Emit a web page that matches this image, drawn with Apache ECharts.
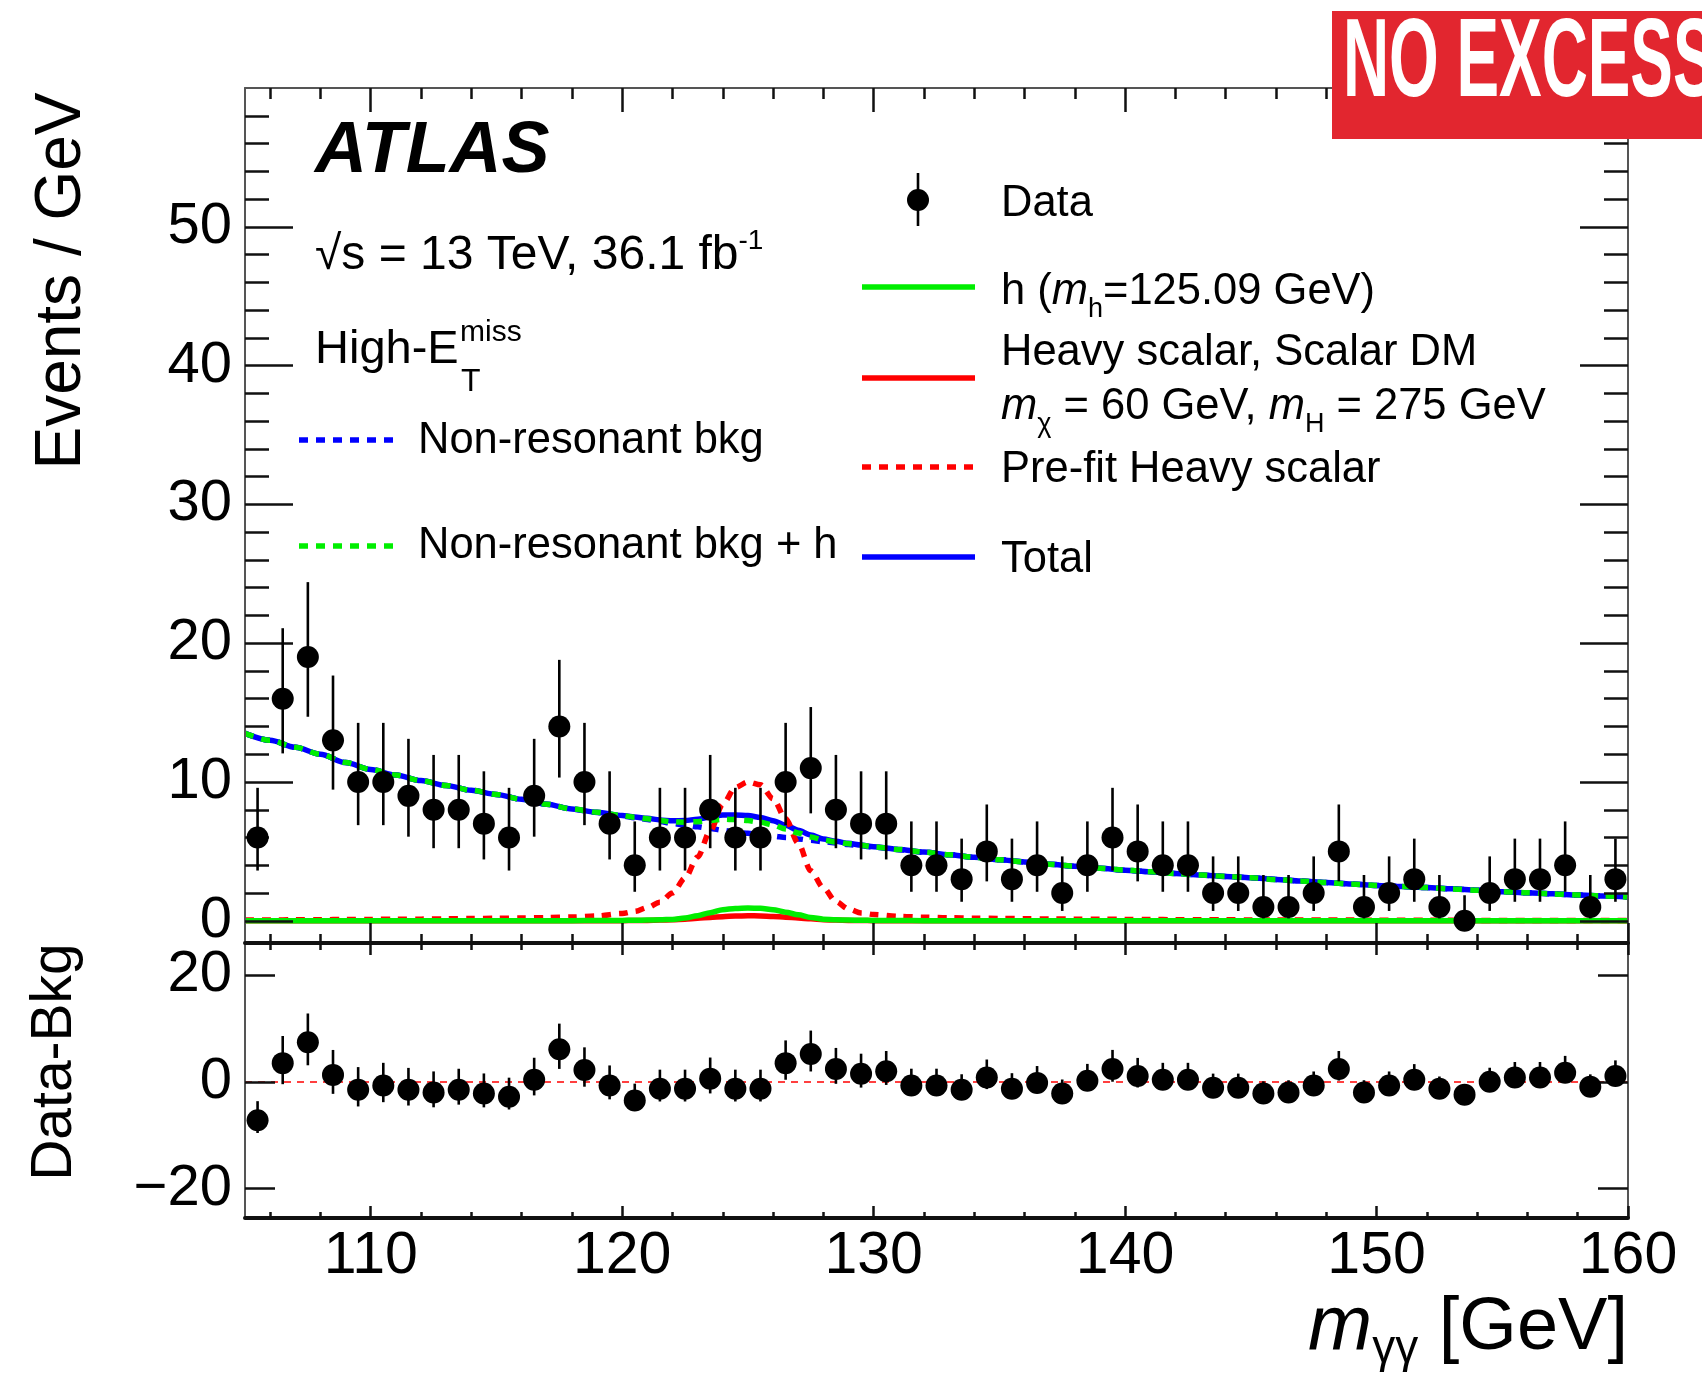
<!DOCTYPE html>
<html><head><meta charset="utf-8">
<script src="https://cdn.jsdelivr.net/npm/echarts@6/dist/echarts.min.js"></script>
<style>html,body{margin:0;padding:0;background:#fff}#c{width:1702px;height:1384px}</style>
</head><body><div id="c"></div>
<script>
// ---------- data ----------
const binCenters = [105.5,106.5,107.5,108.5,109.5,110.5,111.5,112.5,113.5,114.5,115.5,116.5,117.5,118.5,119.5,120.5,121.5,122.5,123.5,124.5,125.5,126.5,127.5,128.5,129.5,130.5,131.5,132.5,133.5,134.5,135.5,136.5,137.5,138.5,139.5,140.5,141.5,142.5,143.5,144.5,145.5,146.5,147.5,148.5,149.5,150.5,151.5,152.5,153.5,154.5,155.5,156.5,157.5,158.5,159.5];
const dataEvents = [6,16,19,13,10,10,9,8,8,7,6,9,14,10,7,4,6,6,8,6,6,10,11,8,7,7,4,4,3,5,3,4,2,4,6,5,4,4,2,2,1,1,2,5,1,2,3,1,0,2,3,3,4,1,3];
const dataErrLo = [2.38,3.94,4.3,3.55,3.11,3.11,2.94,2.77,2.77,2.58,2.38,2.94,3.68,3.11,2.58,1.91,2.38,2.38,2.77,2.38,2.38,3.11,3.26,2.77,2.58,2.58,1.91,1.91,1.63,2.16,1.63,1.91,1.29,1.91,2.38,2.16,1.91,1.91,1.29,1.29,0.83,0.83,1.29,2.16,0.83,1.29,1.63,0.83,0,1.29,1.63,1.63,1.91,0.83,1.63];
const dataErrHi = [3.58,5.08,5.4,4.67,4.26,4.26,4.11,3.95,3.95,3.77,3.58,4.11,4.8,4.26,3.77,3.16,3.58,3.58,3.95,3.58,3.58,4.26,4.4,3.95,3.77,3.77,3.16,3.16,2.92,3.38,2.92,3.16,2.64,3.16,3.58,3.38,3.16,3.16,2.64,2.64,2.3,2.3,2.64,3.38,2.3,2.64,2.92,2.3,1.84,2.64,2.92,2.92,3.16,2.3,2.92];
const residuals = [-7.2,3.5,7.4,1.3,-1.5,-0.7,-1.5,-2,-1.5,-2.2,-2.8,0.4,6.1,2.2,-0.7,-3.5,-1.3,-1.3,0.6,-1.3,-1.3,3.5,5.2,2.4,1.5,2,-0.7,-0.7,-1.5,0.8,-1.3,-0.2,-2.2,0.2,2.4,1.1,0.4,0.4,-1.1,-1.1,-2.2,-2,-0.7,2.4,-2,-0.7,0.4,-1.3,-2.4,0,0.8,0.8,1.7,-0.9,1.1];

const curveX = [105,106,107,108,109,110,111,112,113,114,115,116,117,118,119,120,120.5,121,121.5,122,122.5,123,123.5,124,124.5,125,125.5,126,126.5,127,127.5,128,128.5,129,129.5,130,131,132,133,134,135,136,137,138,139,140,141,142,143,144,145,146,147,148,149,150,151,152,153,154,155,156,157,158,159,160];
const bkgY = [13.5,13.0,12.5,12.0,11.4,10.9,10.5,10.1,9.75,9.4,9.1,8.75,8.4,8.05,7.8,7.55,7.42,7.3,7.15,7.02,6.9,6.77,6.65,6.52,6.4,6.3,6.2,6.1,6.0,5.9,5.8,5.7,5.6,5.5,5.4,5.3,5.12,4.94,4.76,4.58,4.4,4.24,4.08,3.93,3.79,3.65,3.53,3.41,3.3,3.2,3.1,2.98,2.86,2.75,2.65,2.55,2.47,2.39,2.3,2.2,2.1,2.02,1.94,1.86,1.79,1.72];
const bkgPlusHY = [13.5,13.0,12.5,12.0,11.4,10.9,10.5,10.1,9.75,9.4,9.1,8.75,8.4,8.06,7.82,7.58,7.46,7.35,7.22,7.12,7.1,7.14,7.23,7.32,7.29,7.22,7.1,6.9,6.62,6.33,6.04,5.82,5.68,5.55,5.44,5.33,5.14,4.95,4.76,4.58,4.4,4.24,4.08,3.93,3.79,3.65,3.53,3.41,3.3,3.2,3.1,2.98,2.86,2.75,2.65,2.55,2.47,2.39,2.3,2.2,2.1,2.02,1.94,1.86,1.79,1.72];
const totalY = [13.5,13.0,12.5,12.0,11.4,10.9,10.5,10.1,9.75,9.4,9.1,8.75,8.4,8.06,7.82,7.59,7.48,7.38,7.27,7.2,7.22,7.32,7.47,7.62,7.63,7.58,7.45,7.21,6.88,6.53,6.18,5.9,5.73,5.58,5.46,5.34,5.14,4.95,4.76,4.58,4.4,4.24,4.08,3.93,3.79,3.65,3.53,3.41,3.3,3.2,3.1,2.98,2.86,2.75,2.65,2.55,2.47,2.39,2.3,2.2,2.1,2.02,1.94,1.86,1.79,1.72];
const higgsY = [0,0,0,0,0,0,0,0,0,0,0,0,0,0.01,0.02,0.03,0.04,0.05,0.07,0.1,0.2,0.37,0.58,0.8,0.89,0.92,0.9,0.8,0.62,0.43,0.24,0.12,0.08,0.05,0.04,0.03,0.02,0.01,0,0,0,0,0,0,0,0,0,0,0,0,0,0,0,0,0,0,0,0,0,0,0,0,0,0,0,0];
const heavyY = [0,0,0,0,0,0,0,0,0,0,0,0,0,0,0,0.01,0.02,0.03,0.05,0.08,0.12,0.18,0.24,0.3,0.34,0.36,0.35,0.31,0.26,0.2,0.14,0.08,0.05,0.03,0.02,0.01,0,0,0,0,0,0,0,0,0,0,0,0,0,0,0,0,0,0,0,0,0,0,0,0,0,0,0,0,0,0];
const prefitY = [0.05,0.06,0.07,0.08,0.09,0.1,0.11,0.12,0.14,0.16,0.18,0.2,0.23,0.27,0.35,0.53,0.68,0.95,1.33,2.0,3.08,4.6,6.47,8.4,9.6,10.0,9.8,8.8,7.35,5.6,3.6,2.37,1.38,0.85,0.57,0.45,0.32,0.26,0.22,0.19,0.17,0.15,0.13,0.12,0.11,0.1,0.09,0.08,0.07,0.07,0.06,0.06,0.05,0.05,0.05,0.04,0.04,0.04,0.04,0.03,0.03,0.03,0.03,0.03,0.03,0.03];

const xMajorTicks = [110,120,130,140,150,160];
const xMinorTicks = [106,108,112,114,116,118,122,124,126,128,132,134,136,138,142,144,146,148,152,154,156,158];
const yMainMajorTicks = [0,10,20,30,40,50];
const yMainMinorTicks = [2,4,6,8,12,14,16,18,22,24,26,28,32,34,36,38,42,44,46,48,52,54,56,58];
const yRatioTicks = [-20,0,20];

// ---------- styling ----------
const FONT = '"Liberation Sans", Arial, Helvetica, sans-serif';
const BLUE = '#0000ff', GREEN = '#00ee00', RED = '#ff0000';
const TICK = {color:'#111', width:2.5};
const THICK = {color:'#111', width:4};
const THIN = {color:'#555', width:2};
const LEG = 43.5;
const fmtNum = v => v < 0 ? '\u2212' + Math.abs(v) : String(v);

function xAx(grid, pos, ticks, len, line, labels) {
  return {
    type:'value', gridIndex:grid, position:pos, min:105, max:160, z:5,
    axisLine:{show:!!line, onZero:false, lineStyle: line || {}},
    axisTick:{show:true, inside:true, length:len, customValues:ticks, lineStyle:TICK},
    axisLabel: labels ? {show:true, customValues:ticks, margin:9, color:'#000', fontSize:59, fontFamily:FONT, formatter:fmtNum}
                      : {show:false, customValues:ticks},
    splitLine:{show:false}
  };
}
function yAx(grid, pos, ticks, len, min, max, line, labels) {
  return {
    type:'value', gridIndex:grid, position:pos, min:min, max:max, z:5,
    axisLine:{show:!!line, onZero:false, lineStyle: line || {}},
    axisTick:{show:true, inside:true, length:len, customValues:ticks, lineStyle:TICK},
    axisLabel: labels ? {show:true, customValues:ticks, margin:13, color:'#000', fontSize:58, fontFamily:FONT, formatter:fmtNum}
                      : {show:false, customValues:ticks},
    splitLine:{show:false}
  };
}

const MAIN_MIN = -1.6, MAIN_MAX = 60, R_MIN = -25.5, R_MAX = 26;

const pairs = (xs, ys) => xs.map((x, i) => [x, ys[i]]);
function errBars(xs, ys, lo, hi) { return xs.map((x, i) => [x, ys[i] - lo[i], ys[i] + hi[i]]); }
function renderErr(params, api) {
  const p1 = api.coord([api.value(0), api.value(1)]);
  const p2 = api.coord([api.value(0), api.value(2)]);
  return {type:'line', shape:{x1:p1[0], y1:p1[1], x2:p2[0], y2:p2[1]}, style:{stroke:'#000', lineWidth:2.6}};
}
function curve(name, ys, color, dash, z) {
  return {
    name, type:'line', xAxisIndex:0, yAxisIndex:0, data:pairs(curveX, ys),
    showSymbol:false, symbol:'none', smooth:0.3, smoothMonotone:'x', z:z,
    lineStyle:{color, width:5.5, type: dash ? [9,8] : 'solid', opacity:1}, silent:true
  };
}

const txt = (x, y, text, size, extra) => ({
  type:'text', x, y, z:20,
  style: Object.assign({text, fill:'#000', fontSize:size, fontFamily:FONT, align:'left', verticalAlign:'middle'}, extra || {})
});
const seg = (x1, x2, y, color, dash) => ({
  type:'line', z:20, shape:{x1, y1:y, x2, y2:y},
  style:{stroke:color, lineWidth:5.5, lineDash: dash ? [9,8] : null}
});
const subRich = {
  i:{fontSize:LEG, fontFamily:FONT, fontStyle:'italic', fill:'#000'},
  s:{fontSize:27, fontFamily:FONT, fill:'#000', lineHeight:1, verticalAlign:'bottom'}
};

const chart = echarts.init(document.getElementById('c'), null, {renderer:'canvas'});
chart.setOption({
  animation:false,
  backgroundColor:'#ffffff',
  grid:[
    {left:245, top:88, width:1383, height:855},
    {left:245, top:943, width:1383, height:275}
  ],
  xAxis:[
    xAx(0,'bottom',xMajorTicks,20,THICK,false),
    xAx(0,'bottom',xMinorTicks,9,null,false),
    xAx(0,'top',xMajorTicks,24,THIN,false),
    xAx(0,'top',xMinorTicks,11,null,false),
    xAx(1,'bottom',xMajorTicks,12,THICK,true),
    xAx(1,'bottom',xMinorTicks,6,null,false),
    xAx(1,'top',xMajorTicks,12,null,false),
    xAx(1,'top',xMinorTicks,7,null,false)
  ],
  yAxis:[
    yAx(0,'left',yMainMajorTicks,48,MAIN_MIN,MAIN_MAX,THIN,true),
    yAx(0,'left',yMainMinorTicks,24,MAIN_MIN,MAIN_MAX,null,false),
    yAx(0,'right',yMainMajorTicks,48,MAIN_MIN,MAIN_MAX,THIN,false),
    yAx(0,'right',yMainMinorTicks,24,MAIN_MIN,MAIN_MAX,null,false),
    yAx(1,'left',yRatioTicks,30,R_MIN,R_MAX,THIN,true),
    yAx(1,'right',yRatioTicks,30,R_MIN,R_MAX,THIN,false)
  ],
  series:[
    curve('Total', totalY, BLUE, false, 2),
    curve('Non-resonant bkg', bkgY, BLUE, true, 3),
    curve('Non-resonant bkg + h', bkgPlusHY, GREEN, true, 4),
    curve('Heavy scalar, Scalar DM', heavyY, RED, false, 2),
    curve('Pre-fit Heavy scalar', prefitY, RED, true, 3),
    curve('h (m_h=125.09 GeV)', higgsY, GREEN, false, 4),
    {name:'Data errors', type:'custom', xAxisIndex:0, yAxisIndex:0, z:6, silent:true,
     data:errBars(binCenters, dataEvents, dataErrLo, dataErrHi), renderItem:renderErr, encode:{x:0, y:[1,2]}},
    {name:'Data', type:'scatter', xAxisIndex:0, yAxisIndex:0, z:7, symbol:'circle', symbolSize:22,
     itemStyle:{color:'#000', opacity:1}, data:pairs(binCenters, dataEvents), silent:true},
    {name:'Data-Bkg errors', type:'custom', xAxisIndex:4, yAxisIndex:4, z:6, silent:true,
     data:errBars(binCenters, residuals, dataErrLo, dataErrHi), renderItem:renderErr, encode:{x:0, y:[1,2]}},
    {name:'Data-Bkg', type:'scatter', xAxisIndex:4, yAxisIndex:4, z:7, symbol:'circle', symbolSize:22,
     itemStyle:{color:'#000', opacity:1}, data:pairs(binCenters, residuals), silent:true,
     markLine:{silent:true, symbol:'none', label:{show:false}, z:3,
       lineStyle:{color:RED, width:1.6, type:[7,6], opacity:1}, data:[{yAxis:0}]}}
  ],
  graphic:[
    // NO EXCESS badge
    {type:'rect', z:30, shape:{x:1332, y:11, width:380, height:128}, style:{fill:'#e2262f'}},
    {type:'text', z:31, x:1343, y:65, scaleX:0.57, style:{text:'NO EXCESS', fill:'#fff', fontSize:112, fontWeight:'bold',
      fontFamily:'"Liberation Sans", Arial, sans-serif', align:'left', verticalAlign:'middle'}},
    // axis titles
    {type:'text', z:20, x:62, y:281, rotation:Math.PI/2, style:{text:'Events / GeV', fill:'#000', fontSize:64, fontFamily:FONT, align:'center', verticalAlign:'middle'}},
    {type:'text', z:20, x:55, y:1062, rotation:Math.PI/2, style:{text:'Data-Bkg', fill:'#000', fontSize:57, fontFamily:FONT, align:'center', verticalAlign:'middle'}},
    {type:'text', z:20, x:1628, y:1329, style:{text:'{i|m}{s|γγ} [GeV]', fill:'#000', fontSize:74, fontFamily:FONT, lineHeight:86,
      align:'right', verticalAlign:'middle',
      rich:{i:{fontSize:77, fontFamily:FONT, fontStyle:'italic', fill:'#000'},
            s:{fontSize:46, fontFamily:FONT, fill:'#000', lineHeight:1, verticalAlign:'bottom'}}}},
    // ATLAS label block
    txt(315, 152, 'ATLAS', 72, {fontWeight:'bold', fontStyle:'italic'}),
    txt(315, 256, '√s = 13 TeV, 36.1 fb{p|-1}', 48, {lineHeight:58,
      rich:{p:{fontSize:28, fontFamily:FONT, fill:'#000', lineHeight:1, verticalAlign:'top'}}}),
    txt(315, 350, 'High-E', 47),
    txt(460, 333, 'miss', 30),
    txt(461, 382, 'T', 32),
    // left legend
    seg(299, 398, 440, BLUE, true),
    txt(418, 441, 'Non-resonant bkg', LEG),
    seg(299, 398, 546, GREEN, true),
    txt(418, 546, 'Non-resonant bkg + h', LEG),
    // right legend
    {type:'line', z:20, shape:{x1:918, y1:173, x2:918, y2:226}, style:{stroke:'#000', lineWidth:2.6}},
    {type:'circle', z:21, shape:{cx:918, cy:200, r:11}, style:{fill:'#000'}},
    txt(1001, 204, 'Data', LEG),
    seg(862, 975, 287, GREEN, false),
    txt(1001, 292, 'h ({i|m}{s|h}=125.09 GeV)', LEG, {lineHeight:62, rich:subRich}),
    seg(862, 975, 378, RED, false),
    txt(1001, 353, 'Heavy scalar, Scalar DM', LEG),
    txt(1001, 407, '{i|m}{s|χ} = 60 GeV, {i|m}{s|H} = 275 GeV', LEG, {lineHeight:62, rich:subRich}),
    seg(862, 975, 467, RED, true),
    txt(1001, 470, 'Pre-fit Heavy scalar', LEG),
    seg(862, 975, 557, BLUE, false),
    txt(1001, 560, 'Total', LEG)
  ]
});
</script></body></html>
